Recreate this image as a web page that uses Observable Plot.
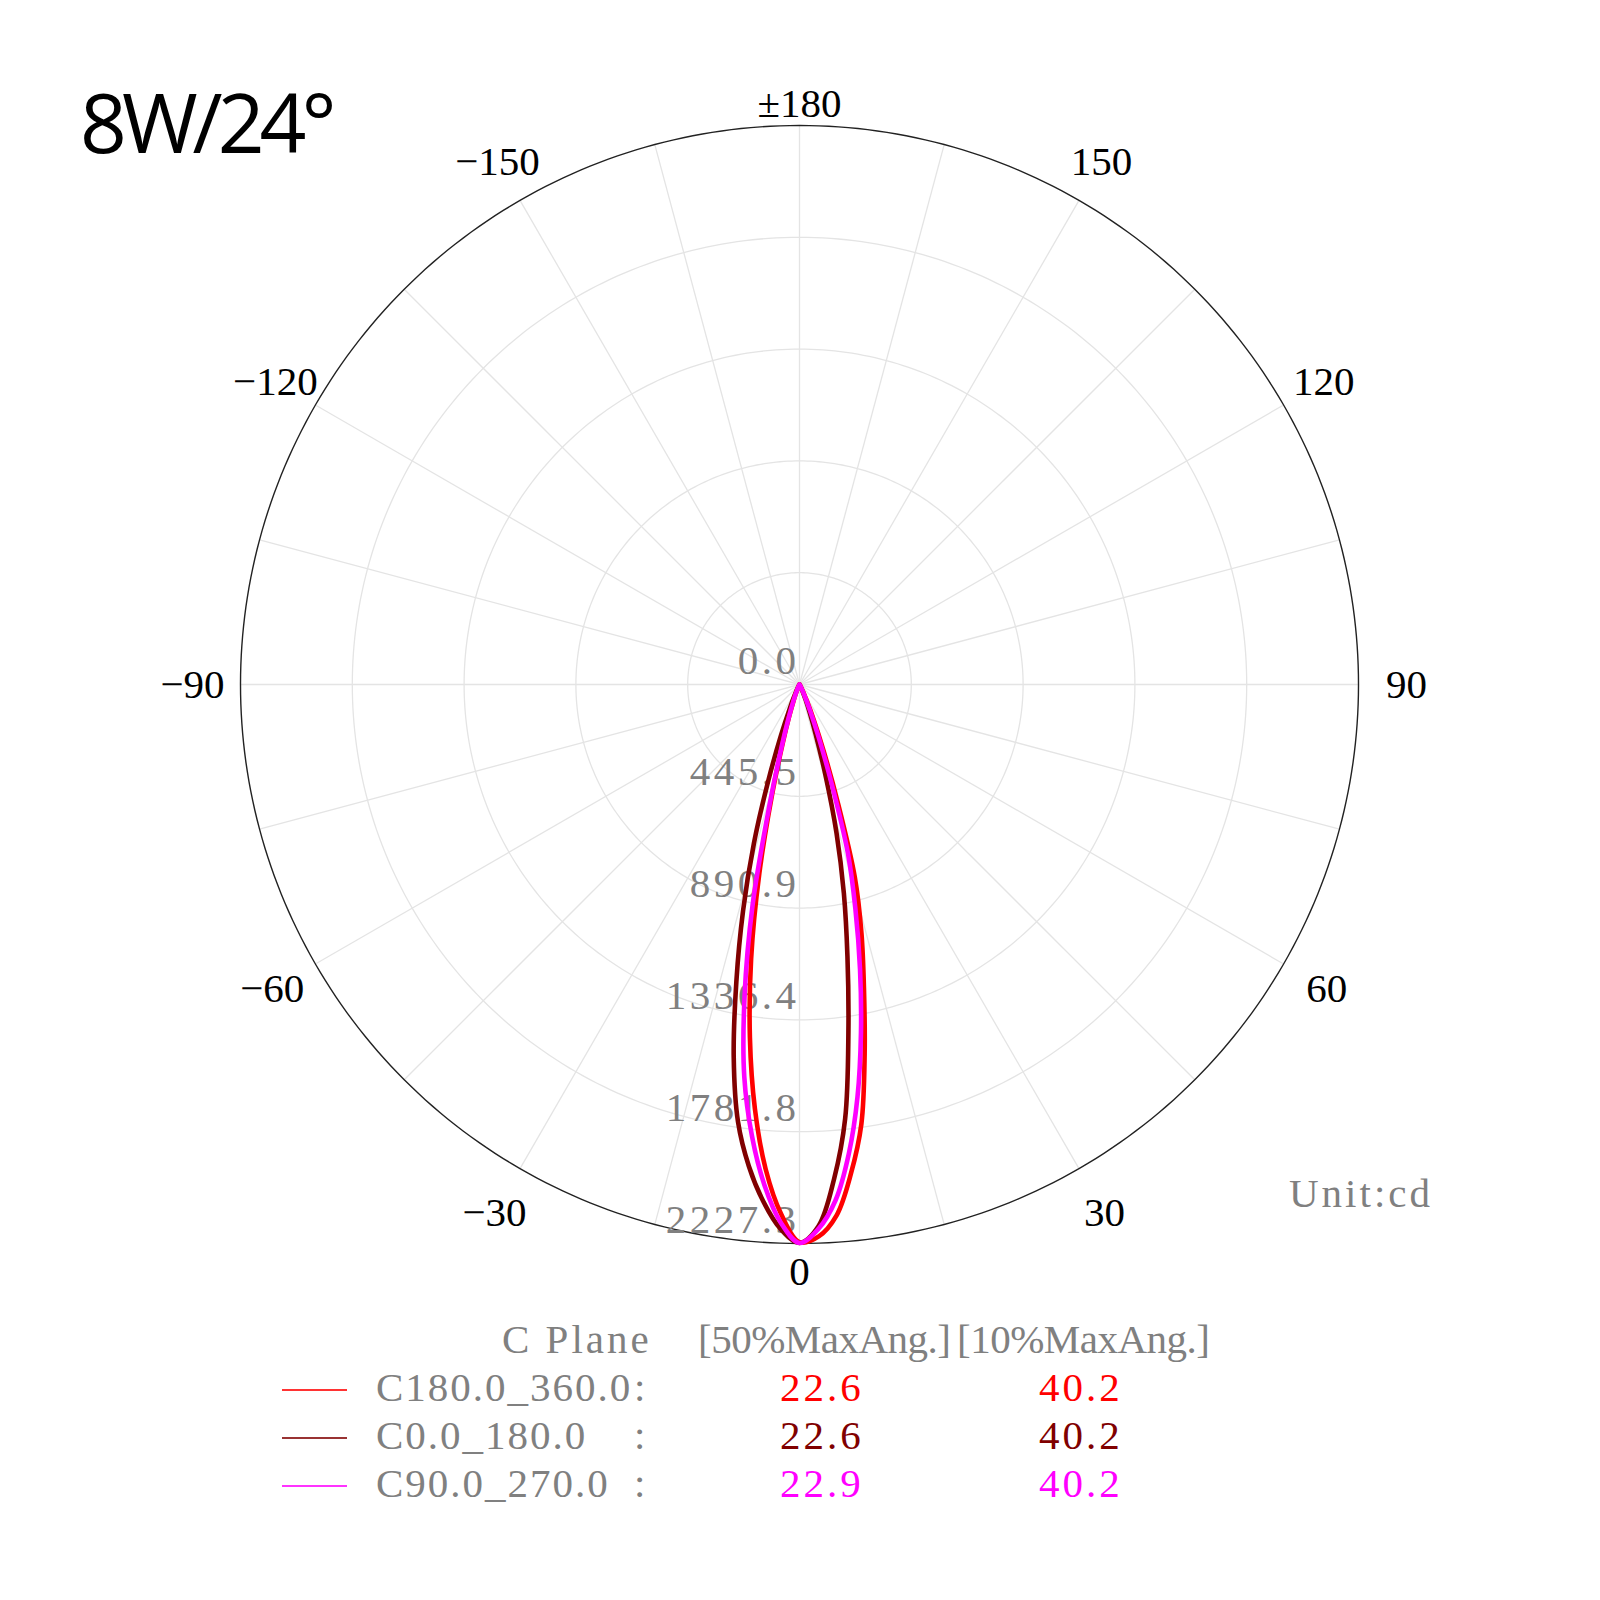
<!DOCTYPE html>
<html><head><meta charset="utf-8">
<script src="https://cdn.jsdelivr.net/npm/d3@7"></script>
<script src="https://cdn.jsdelivr.net/npm/@observablehq/plot@0.6"></script>
<style>
body{margin:0;background:#fff;}
#wrap{position:relative;width:1600px;height:1600px;background:#fff;}
#wrap svg{position:absolute;left:0;top:0;}
.t{position:absolute;white-space:pre;font-family:"Liberation Serif",serif;font-size:41px;line-height:1;color:#808080;}
.ln{position:absolute;height:0;border-top:2px solid;}
#title{position:absolute;left:80px;top:80px;font-family:"Open Sans",sans-serif;font-size:82px;line-height:1;letter-spacing:-5px;color:#000;white-space:pre;}
</style></head><body><div id="wrap"></div><script>
// ---- data ----
const title = "8W/24°";
const unitLabel = "Unit:cd";
const maxIntensity = 2227.3;
const ringValues = [0, 445.46, 890.92, 1336.38, 1781.84, 2227.3];
const ringLabels = ["0.0", "445.5", "890.9", "1336.4", "1781.8", "2227.3"];
const spokeAngles = d3.range(0, 360, 15);
const angleTicks = [180, 150, 120, 90, 60, 30, 0, -30, -60, -90, -120, -150];
const angleLabels = ["±180", "150", "120", "90", "60", "30", "0", "−30", "−60", "−90", "−120", "−150"];
const gammas = [0, 2, 4, 6, 8, 10, 12, 14, 16, 18, 20, 22, 24, 26, 28, 30, 35, 40, 50, 60, 90];
// intensities (cd) along gamma for the left (negative) and right (positive) halves
const c0Left    = [2225, 2170, 2065, 1930, 1760, 1509, 1210, 930, 660, 400, 215, 105, 52, 25, 12, 6, 2, 1, 0, 0, 0];
const c0Right   = [2225, 2160, 1975, 1740, 1400, 1100, 850, 610, 375, 210, 120, 65, 32, 16, 8, 4, 1, 0, 0, 0, 0];
const c180Left  = [2222, 2110, 1935, 1700, 1420, 1110, 770, 450, 240, 130, 70, 38, 20, 10, 5, 3, 1, 0, 0, 0, 0];
const c180Right = [2222, 2200, 2120, 1960, 1770, 1495, 1235, 1020, 800, 490, 280, 150, 75, 38, 19, 10, 3, 1, 0, 0, 0];
const c90Left   = [2225, 2145, 2000, 1810, 1580, 1260, 900, 490, 260, 140, 75, 40, 20, 10, 5, 3, 1, 0, 0, 0, 0];
const c90Right  = [2225, 2170, 2060, 1880, 1660, 1410, 1160, 920, 700, 410, 220, 110, 55, 28, 14, 7, 2, 1, 0, 0, 0];
const planeNames = ["C180.0_360.0", "C0.0_180.0", "C90.0_270.0"];
const halfMaxAng = ["22.6", "22.6", "22.9"];
const tenthMaxAng = ["40.2", "40.2", "40.2"];
const planeColors = ["#ff0000", "#800000", "#ff00ff"];
const legendHeader = ["C Plane", "[50%MaxAng.]", "[10%MaxAng.]"];

// ---- geometry ----
const W = 1600, H = 1600, CX = 799, CY = 684, RPX = 559;
const k = RPX / maxIntensity;
const rad = d => d * Math.PI / 180;

function halfCurve(vals, side) {
  return gammas.map((g, i) => ({x: side * vals[i] * Math.sin(rad(g)), y: -vals[i] * Math.cos(rad(g))}));
}
function fullCurve(left, right) {
  return halfCurve(left, -1).reverse().concat(halfCurve(right, 1).slice(1));
}
const curves = {
  "C0.0_180.0": fullCurve(c0Left, c0Right),
  "C180.0_360.0": fullCurve(c180Left, c180Right),
  "C90.0_270.0": fullCurve(c90Left, c90Right)
};

const ringPts = [];
ringValues.slice(1).forEach((v, i) => {
  for (let a = 0; a <= 360; a += 1) ringPts.push({ring: i, outer: i === ringValues.length - 2, x: v * Math.sin(rad(a)), y: -v * Math.cos(rad(a))});
});

const angleRows = angleTicks.map((a, i) => {
  const s = Math.abs(Math.sin(rad(a)));
  const pad = 25 + 23 * Math.min(1, 2 * s) + 3.5 * Math.cos(rad(a));
  const r = maxIntensity + pad / k;
  return {label: angleLabels[i], x: r * Math.sin(rad(a)), y: -r * Math.cos(rad(a))};
});

const svg = Plot.plot({
  width: W, height: H, margin: 0,
  x: {domain: [-CX / k, (W - CX) / k], axis: null},
  y: {domain: [-(H - CY) / k, CY / k], axis: null},
  style: {background: "#fff"},
  marks: [
    Plot.link(spokeAngles, {x1: 0, y1: 0, x2: a => maxIntensity * Math.sin(rad(a)), y2: a => -maxIntensity * Math.cos(rad(a)), stroke: "#e4e4e4", strokeWidth: 1.3}),
    Plot.line(ringPts.filter(d => !d.outer), {x: "x", y: "y", z: "ring", stroke: "#e4e4e4", strokeWidth: 1.3}),
    Plot.line(ringPts.filter(d => d.outer), {x: "x", y: "y", z: "ring", stroke: "#222", strokeWidth: 1.4}),
    Plot.text(ringValues, {x: 0, y: v => -v, text: (v, i) => ringLabels[i], textAnchor: "end", dx: 0, dy: -24, fill: "#808080", fontSize: 41, fontFamily: "Liberation Serif"}),
    Plot.text(angleRows, {x: "x", y: "y", text: "label", textAnchor: "middle", fill: "#000", fontSize: 41, fontFamily: "Liberation Serif"}),
    Plot.line(curves["C0.0_180.0"], {x: "x", y: "y", stroke: planeColors[1], strokeWidth: 4.6, curve: "catmull-rom", strokeLinejoin: "round"}),
    Plot.line(curves["C180.0_360.0"], {x: "x", y: "y", stroke: planeColors[0], strokeWidth: 4.6, curve: "catmull-rom", strokeLinejoin: "round"}),
    Plot.line(curves["C90.0_270.0"], {x: "x", y: "y", stroke: planeColors[2], strokeWidth: 4.6, curve: "catmull-rom", strokeLinejoin: "round"})
  ]
});
d3.select(svg).selectAll("text")
  .filter(function() { return ringLabels.includes(this.textContent); })
  .style("letter-spacing", "3.5px");

const wrap = document.getElementById("wrap");
wrap.appendChild(svg);

function addText(txt, left, centerY, opts = {}) {
  const el = document.createElement("div");
  el.className = "t";
  el.textContent = txt;
  el.style.left = left + "px";
  el.style.top = (centerY - 21) + "px";
  if (opts.color) el.style.color = opts.color;
  if (opts.ls) el.style.letterSpacing = opts.ls;
  wrap.appendChild(el);
  return el;
}
const t = document.createElement("div");
t.id = "title"; t.textContent = title; wrap.appendChild(t);

addText(unitLabel, 1289, 1194, {ls: "3px"});

// legend
addText(legendHeader[0], 502, 1340, {ls: "3px"});
addText(legendHeader[1], 698, 1340, {ls: "-0.5px"});
addText(legendHeader[2], 957, 1340, {ls: "-0.5px"});
const rowY = [1388, 1436, 1484];
planeNames.forEach((name, i) => {
  const ln = document.createElement("div");
  ln.className = "ln";
  ln.style.left = "282px"; ln.style.width = "65px";
  ln.style.top = (rowY[i] + 1) + "px";
  ln.style.borderTopColor = planeColors[i];
  ln.style.opacity = "0.8";
  wrap.appendChild(ln);
  addText(name, 376, rowY[i], {ls: "2px"});
  addText(":", 634, rowY[i]);
  addText(halfMaxAng[i], 780, rowY[i], {color: planeColors[i], ls: "3px"});
  addText(tenthMaxAng[i], 1039, rowY[i], {color: planeColors[i], ls: "3px"});
});
</script></body></html>
